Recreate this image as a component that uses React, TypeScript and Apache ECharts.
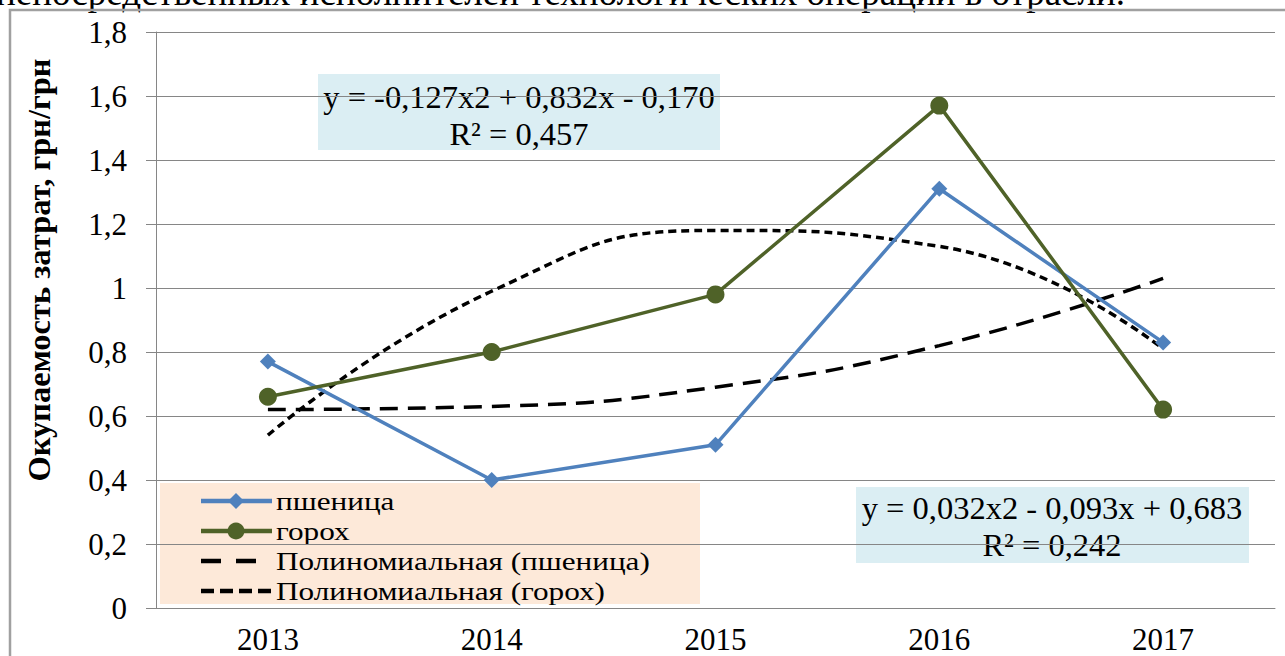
import React, { useEffect, useRef } from "react";
import * as echarts from "echarts";

const years = ["2013", "2014", "2015", "2016", "2017"];
const wheat = [0.77, 0.4, 0.51, 1.31, 0.83];
const peas = [0.66, 0.8, 0.98, 1.57, 0.62];
const wheatTrend = [0.62, 0.63, 0.69, 0.82, 1.03];
const peasTrend = [0.54, 0.99, 1.18, 1.13, 0.81];
const seriesNames = ["пшеница", "горох", "Полиномиальная (пшеница)", "Полиномиальная (горох)"];
const yAxisTitle = "Окупаемость затрат, грн/грн";
const eqPeas = ["y = -0,127x2 + 0,832x - 0,170", "R² = 0,457"];
const eqWheat = ["y = 0,032x2 - 0,093x + 0,683", "R² = 0,242"];
const topText = "непосредственных исполнителей технологических операций в отрасли.";

const FONT = "Liberation Serif";
const BLUE = "#4F81BD";
const GREEN = "#4F6228";

export default function App() {
  const ref = useRef<HTMLDivElement>(null);
  useEffect(() => {
    const chart = echarts.init(ref.current!, null, { renderer: "svg" });
    const fmt = (v: number) => String(Math.round(v * 10) / 10).replace(".", ",");

    const legendRows = [501, 531, 561, 591];
    const legendGraphics: any[] = [
      { type: "rect", shape: { x: 160, y: 483, width: 540, height: 121 }, style: { fill: "#FDE9D9" } },
      { type: "line", shape: { x1: 201, y1: legendRows[0], x2: 272, y2: legendRows[0] }, style: { stroke: BLUE, lineWidth: 4.5 } },
      {
        type: "polygon",
        shape: { points: [[236, legendRows[0] - 8], [244, legendRows[0]], [236, legendRows[0] + 8], [228, legendRows[0]]] },
        style: { fill: BLUE },
      },
      { type: "line", shape: { x1: 201, y1: legendRows[1], x2: 272, y2: legendRows[1] }, style: { stroke: GREEN, lineWidth: 4.5 } },
      { type: "circle", shape: { cx: 236, cy: legendRows[1], r: 8.5 }, style: { fill: GREEN } },
      {
        type: "line",
        shape: { x1: 201, y1: legendRows[2], x2: 257, y2: legendRows[2] },
        style: { stroke: "#000", lineWidth: 4.5, lineDash: [20, 15] },
      },
      {
        type: "line",
        shape: { x1: 201, y1: legendRows[3], x2: 272, y2: legendRows[3] },
        style: { stroke: "#000", lineWidth: 4.5, lineDash: [13, 6] },
      },
    ];
    seriesNames.forEach((n, i) => {
      legendGraphics.push({
        type: "text",
        x: 276,
        y: legendRows[i],
        scaleX: 1.2,
        style: { text: n, fontFamily: FONT, fontSize: 26, lineHeight: 26, fill: "#000", verticalAlign: "middle" },
      });
    });

    chart.setOption({
      animation: false,
      backgroundColor: "#ffffff",
      grid: { left: 156, right: 10, top: 32, bottom: 48 },
      xAxis: {
        type: "category",
        data: years,
        axisLine: { lineStyle: { color: "#868686", width: 1 } },
        axisTick: { length: 8, lineStyle: { color: "#868686" } },
        axisLabel: { fontFamily: FONT, fontSize: 31, color: "#000", margin: 16 },
      },
      yAxis: {
        type: "value",
        min: 0,
        max: 1.8,
        interval: 0.2,
        axisLine: { show: true, lineStyle: { color: "#868686" } },
        axisTick: { show: true, length: 10, lineStyle: { color: "#868686" } },
        splitLine: { lineStyle: { color: "#868686", width: 1 } },
        axisLabel: { fontFamily: FONT, fontSize: 31, color: "#000", margin: 29, formatter: fmt },
      },
      series: [
        {
          name: seriesNames[0],
          type: "line",
          data: wheat,
          symbol: "diamond",
          symbolSize: 16,
          lineStyle: { color: BLUE, width: 3.5 },
          itemStyle: { color: BLUE },
          z: 3,
        },
        {
          name: seriesNames[1],
          type: "line",
          data: peas,
          symbol: "circle",
          symbolSize: 18,
          lineStyle: { color: GREEN, width: 3.5 },
          itemStyle: { color: GREEN },
          z: 3,
        },
        {
          name: seriesNames[2],
          type: "line",
          data: wheatTrend,
          smooth: 0.5,
          symbol: "none",
          lineStyle: { color: "#000", width: 3.5, type: [18, 10] },
          z: 2,
        },
        {
          name: seriesNames[3],
          type: "line",
          data: peasTrend,
          smooth: 0.5,
          symbol: "none",
          lineStyle: { color: "#000", width: 3.5, type: [8, 5] },
          z: 2,
        },
      ],
      graphic: [
        {
          type: "text",
          x: -4,
          y: -26,
          z: 20,
          style: { text: topText, fontFamily: FONT, fontSize: 37, fill: "#000", verticalAlign: "top" },
        },
        {
          type: "rect",
          shape: { x: 10, y: 10, width: 1300, height: 660 },
          style: { fill: "none", stroke: "#A0A0A0", lineWidth: 2.5 },
          z: 20,
        },
        {
          type: "text",
          x: 39,
          y: 270,
          rotation: Math.PI / 2,
          z: 20,
          style: {
            text: yAxisTitle,
            fontFamily: FONT,
            fontSize: 32.5,
            fontWeight: "bold",
            fill: "#000",
            align: "center",
            verticalAlign: "middle",
          },
        },
        { type: "group", z: 20, children: legendGraphics },
        {
          type: "group",
          z: 20,
          children: [
            { type: "rect", shape: { x: 318, y: 74, width: 402, height: 76 }, style: { fill: "#DBEEF3" } },
            {
              type: "text",
              x: 519,
              y: 115,
              style: {
                text: eqPeas.join("\n"),
                fontFamily: FONT,
                fontSize: 32.5,
                lineHeight: 37,
                fill: "#000",
                align: "center",
                verticalAlign: "middle",
              },
            },
            { type: "rect", shape: { x: 856, y: 487, width: 393, height: 76 }, style: { fill: "#DBEEF3" } },
            {
              type: "text",
              x: 1052,
              y: 526,
              style: {
                text: eqWheat.join("\n"),
                fontFamily: FONT,
                fontSize: 32.5,
                lineHeight: 37,
                fill: "#000",
                align: "center",
                verticalAlign: "middle",
              },
            },
          ],
        },
      ],
    });
    return () => chart.dispose();
  }, []);
  return <div ref={ref} style={{ position: "fixed", left: 0, top: 0, width: 1285, height: 656 }} />;
}
